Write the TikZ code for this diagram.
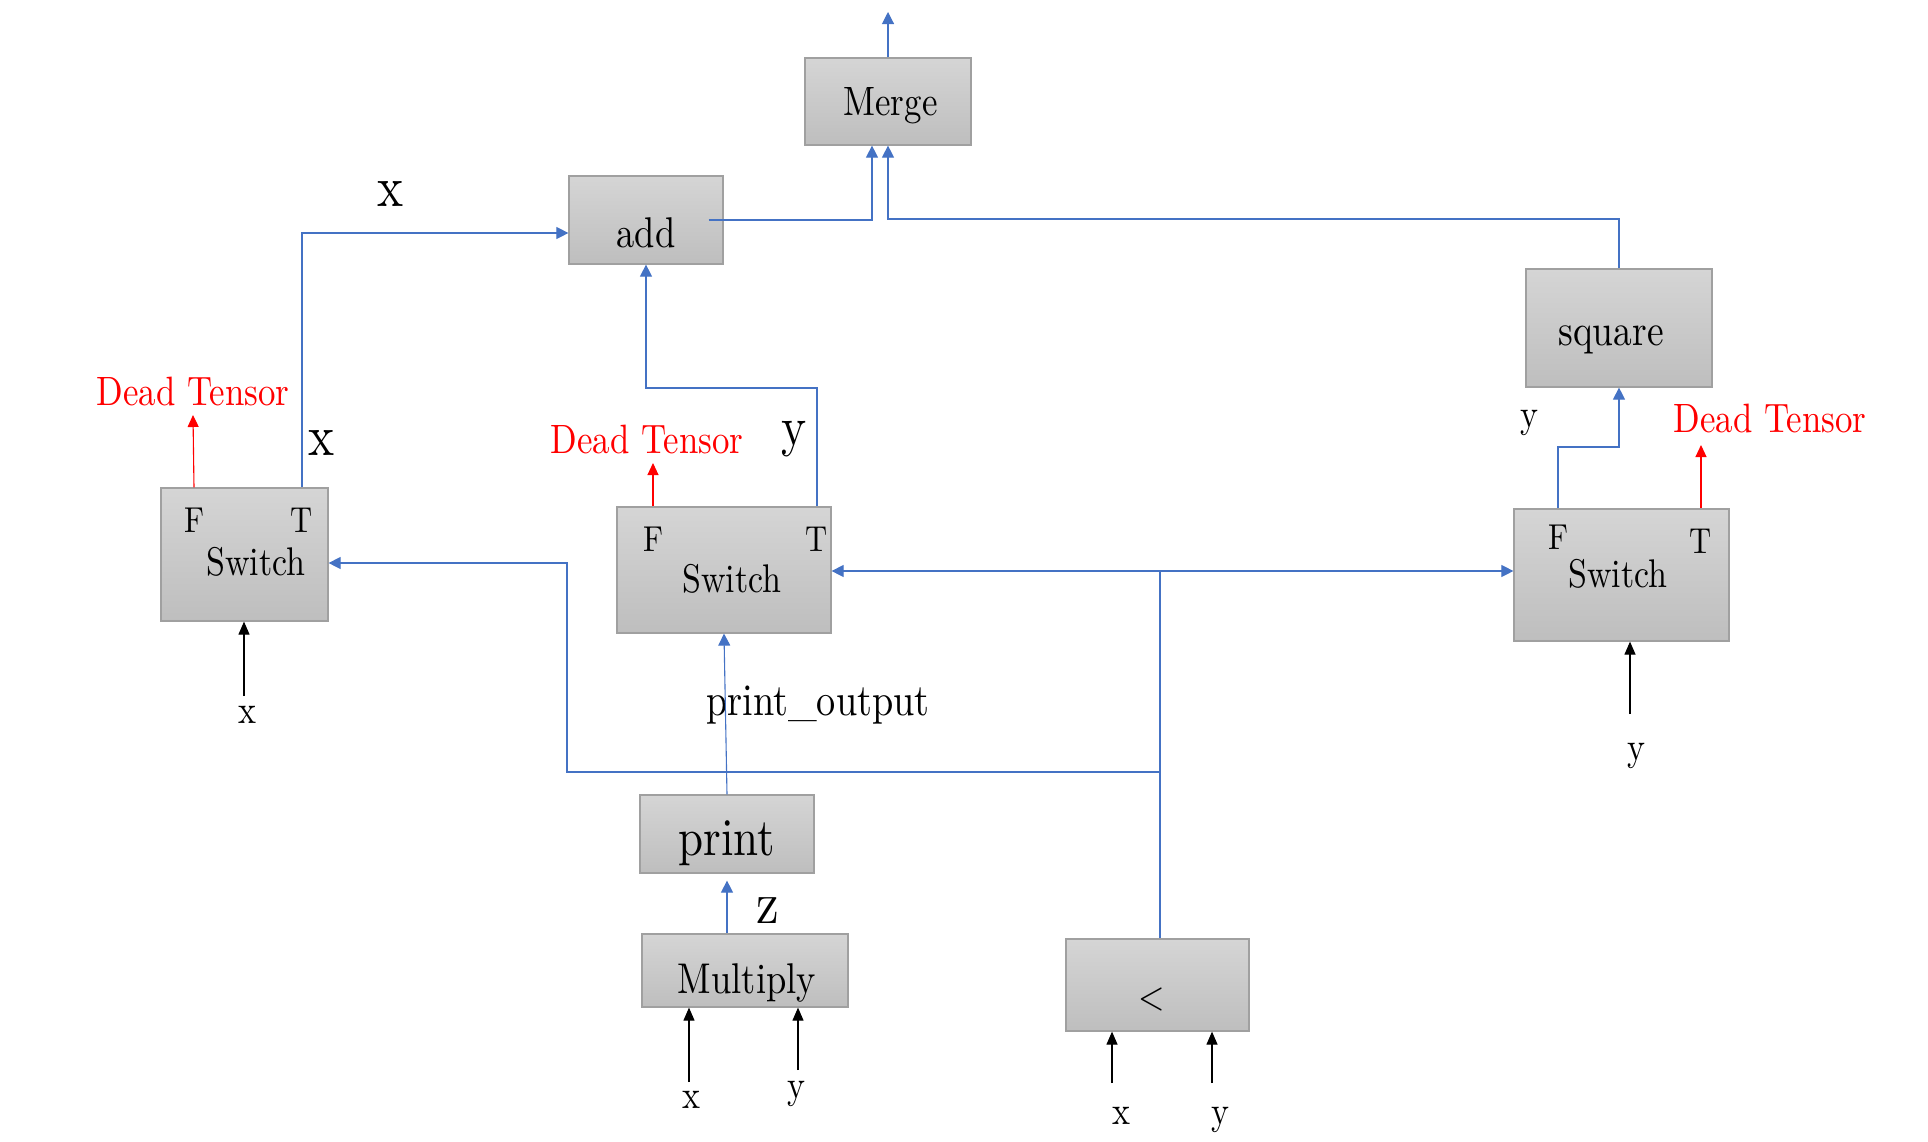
\documentclass[tikz,border=0pt]{standalone}
\usepackage{fontspec}
\setmainfont{lmroman10-regular.otf}[FakeStretch=0.85]
\usetikzlibrary{arrows.meta}
\definecolor{flowblue}{RGB}{68,114,196}
\definecolor{boxtop}{RGB}{213,213,213}
\definecolor{boxbot}{RGB}{190,190,190}
\definecolor{boxline}{RGB}{160,160,160}
\newcommand{\fsz}[1]{\fontsize{#1}{#1}\selectfont}
\begin{document}
\begin{tikzpicture}[x=1pt,y=-1pt,
  opbox/.style={draw=boxline,line width=1.2pt,top color=boxtop,bottom color=boxbot,inner sep=0pt},
  lab/.style={inner sep=0pt,anchor=base},
  flow/.style={draw=flowblue,line width=1.1pt,-{Triangle[width=12pt,length=12pt]}},
  dead/.style={draw=red,line width=1.1pt,-{Triangle[width=11pt,length=12pt]}},
  feed/.style={draw=black,line width=1.1pt,-{Triangle[width=11pt,length=13pt]}}]
\useasboundingbox (0,0) rectangle (1928,1141);

\node[opbox,minimum width=166pt,minimum height=87pt] (merge) at (888,101.5) {};
\node[opbox,minimum width=154pt,minimum height=88pt] (add) at (646,220) {};
\node[opbox,minimum width=186pt,minimum height=118pt] (square) at (1619,328) {};
\node[opbox,minimum width=167pt,minimum height=133pt] (swL) at (244.5,554.5) {};
\node[opbox,minimum width=214pt,minimum height=126pt] (swM) at (724,570) {};
\node[opbox,minimum width=215pt,minimum height=132pt] (swR) at (1621.5,575) {};
\node[opbox,minimum width=174pt,minimum height=78pt] (print) at (727,834) {};
\node[opbox,minimum width=206pt,minimum height=73pt] (mult) at (745,970.5) {};
\node[opbox,minimum width=183pt,minimum height=92pt] (less) at (1157.5,985) {};

\node[lab,font=\fsz{41}] (tmerge) at (890.5,115) {Merge};
\node[lab,font=\fsz{43}] (tadd) at (646,247) {add};
\node[lab,font=\fsz{44}] (tsquare) at (1611,345) {square};
\node[lab,font=\fsz{40}] (tswL) at (256,575) {Switch};
\node[lab,font=\fsz{40}] (tswM) at (732,592) {Switch};
\node[lab,font=\fsz{40}] (tswR) at (1618,587) {Switch};
\node[lab,font=\fsz{36}] (fL) at (194,532) {F};
\node[lab,font=\fsz{36}] (tL) at (302,532) {T};
\node[lab,font=\fsz{36}] (fM) at (653,551) {F};
\node[lab,font=\fsz{36}] (tM) at (817,551) {T};
\node[lab,font=\fsz{36}] (fR) at (1558,549) {F};
\node[lab,font=\fsz{36}] (tR) at (1701,553) {T};
\node[lab,font=\fsz{53}] (tprint) at (727,855) {print};
\node[lab,font=\fsz{43}] (tmult) at (747,993) {Multiply};
\node[inner sep=0pt,font=\fsz{40}] (tless) at (1152,999) {<};

\node[lab,font=\fsz{41},text=red] (deadL) at (193,405) {Dead Tensor};
\node[lab,font=\fsz{41},text=red] (deadM) at (647,453) {Dead Tensor};
\node[lab,font=\fsz{41},text=red] (deadR) at (1770,432) {Dead Tensor};

\node[lab,font=\fsz{45}] (lpout) at (818,715) {print\_output};
\node[inner sep=0pt,font=\fsz{58}] (lxadd) at (391,194) {x};
\node[inner sep=0pt,font=\fsz{58}] (lxsw) at (322,443) {x};
\node[lab,font=\fsz{56}] (lysw) at (794,445) {y};
\node[lab,font=\fsz{60}] (lz) at (768,923) {z};
\node[lab,font=\fsz{40}] (lysq) at (1529,427) {y};
\node[lab,font=\fsz{40}] (inxL) at (247,723) {x};
\node[lab,font=\fsz{40}] (inyR) at (1636,760) {y};
\node[lab,font=\fsz{40}] (inxM) at (691,1108) {x};
\node[lab,font=\fsz{40}] (inyM) at (796,1098) {y};
\node[lab,font=\fsz{40}] (inxC) at (1121,1124) {x};
\node[lab,font=\fsz{40}] (inyC) at (1220,1124) {y};

\coordinate (mout) at (888,12);
\coordinate (mjA) at (872,220);
\coordinate (mjB) at (888,219);
\coordinate (bendM) at (646,388);
\coordinate (bendR) at (1619,447);
\coordinate (dLtip) at (193,415);
\coordinate (dMtip) at (653,463);
\coordinate (dRtip) at (1701,445);
\coordinate (jt) at (1160,571);
\coordinate (jb) at (1160,772);
\coordinate (jl) at (567,772);
\coordinate (inL) at (244,696);
\coordinate (inR) at (1630,714);
\coordinate (inMx) at (689,1082);
\coordinate (inMy) at (798,1070);
\coordinate (inCx) at (1112,1083);
\coordinate (inCy) at (1212,1083);

\draw[flow] (merge.north) -- (mout);
\draw[flow] ([xshift=-15pt]add.east) -- (mjA) -- (mjA |- merge.south);
\draw[flow] (square.north) |- (mjB) -- (merge.south);
\draw[flow] (tL |- swL.north) |- ([yshift=-13pt]add.west);
\draw[flow] (tM |- swM.north) |- (bendM) -- (add.south);
\draw[flow] (fR |- swR.north) |- (bendR) -- (square.south);

\draw[dead] (fL |- swL.north) -- (dLtip);
\draw[dead] (fM |- swM.north) -- (dMtip);
\draw[dead] (tR |- swR.north) -- (dRtip);

\draw[flow,-] (jt |- less.north) -- (jt);
\draw[flow] (jt) -- (jt -| swM.east);
\draw[flow] (jt) -- (jt -| swR.west);
\draw[flow] (jb) -- (jl) |- ([yshift=-8.5pt]swL.east);
\draw[flow] (print.north) -- (swM.south);
\draw[flow,shorten >=7pt] ([xshift=-18pt]mult.north) -- (print.south);

\draw[feed] (inL) -- (inL |- swL.south);
\draw[feed] (inR) -- (inR |- swR.south);
\draw[feed] (inMx) -- (inMx |- mult.south);
\draw[feed] (inMy) -- (inMy |- mult.south);
\draw[feed] (inCx) -- (inCx |- less.south);
\draw[feed] (inCy) -- (inCy |- less.south);
\end{tikzpicture}
\end{document}
